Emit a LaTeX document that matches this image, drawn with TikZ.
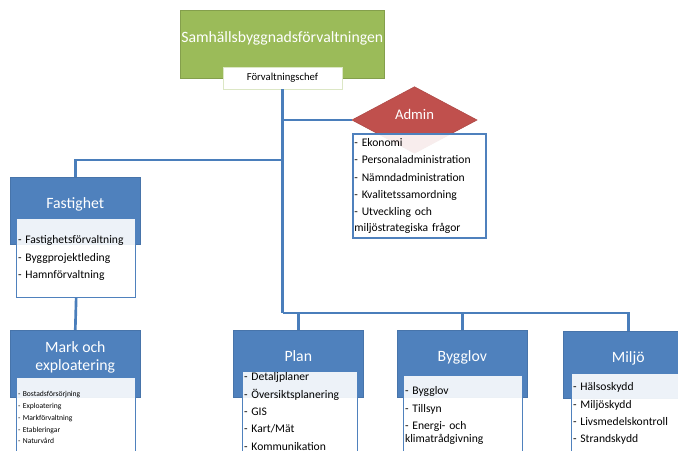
\documentclass[tikz,border=0pt]{standalone}
\usepackage{fontspec}
\setmainfont{Carlito}
\usepackage{xcolor}
\usetikzlibrary{calc, positioning, shapes.geometric}
\definecolor{orgblue}{HTML}{4F81BD}
\definecolor{orggreen}{HTML}{9BBB59}
\definecolor{orgred}{HTML}{C0504D}
\definecolor{lineblue}{HTML}{4A7EBB}

\begin{document}
\begin{tikzpicture}[x = 0.75pt, y = -0.75pt,
  unit/.style = {draw = orgblue!90!black, line width = 0.4pt, fill = orgblue, anchor = north west, minimum width = 97.5pt, minimum height = 50pt, inner sep = 0pt, text = white, align = center, text depth = 12pt, font = \fontsize{11.8}{13.5}\selectfont},
  lst/.style = {draw = orgblue, line width = 1pt, fill = white, fill opacity = 0.9, text opacity = 1, anchor = north west, text width = 87.25pt, align = left, inner xsep = 1pt, font = \fontsize{8.7}{13}\selectfont},
  conn/.style = {draw = lineblue, line width = 2pt}]
\fill[white] (0,0) rectangle (678,450);
\useasboundingbox (0,0) rectangle (678,450);
\clip (0,0) rectangle (678,450);

\node[fill = orggreen, draw = orggreen!85!black, anchor = north west, minimum width = 153pt, minimum height = 51pt, inner sep = 0pt, text = white, text depth = 11pt, font = \fontsize{11.8}{14}\selectfont] (forv) at (180,10) {Samhällsbyggnadsförvaltningen};
\node[fill = white, draw = orggreen!35, minimum width = 89pt, minimum height = 16.5pt, inner sep = 0pt, font = \fontsize{8}{9}\selectfont] (chef) at (282.5,78) {Förvaltningschef};

\node[diamond, aspect = 1.9, fill = orgred, draw = orgred!90!black, minimum width = 94pt, minimum height = 50pt, inner sep = 0pt, text = white, text depth = 9pt, font = \fontsize{11}{13}\selectfont] (admin) at (414.5,120) {Admin};
\node[lst, line width = 1.5pt, text width = 97.75pt, minimum height = 76.5pt] (adminlist) at (352,133) {- Ekonomi\\- Personaladministration\\- Nämndadministration\\- Kvalitetssamordning\\- Utveckling och\\[-1pt]miljöstrategiska frågor};

\node[unit] (fast) at (10,177) {Fastighet};
\node[lst, minimum height = 59pt] (fastlist) at (16,218) {- Fastighetsförvaltning\\- Byggprojektleding\\- Hamnförvaltning};

\node[unit] (mark) at (10,330) {Mark och\\exploatering};
\node[lst, minimum height = 60pt, font = \fontsize{5.7}{8.8}\selectfont] (marklist) at (16,377) {- Bostadsförsörjning\\- Exploatering\\- Markförvaltning\\- Etableringar\\- Naturvård};

\node[unit] (plan) at (233,330) {Plan};
\node[lst, text width = 84.25pt, inner ysep = 0pt, minimum height = 60pt] (planlist) at (242,371) {- Detaljplaner\\- Översiktsplanering\\- GIS\\- Kart/Mät\\- Kommunikation};

\node[unit] (bygglov) at (397,330) {Bygglov};
\node[lst, minimum height = 60pt] (bygglist) at (403,375) {- Bygglov\\- Tillsyn\\- Energi- och\\[-3pt]klimatrådgivning};

\node[unit] (miljo) at (563,331) {Miljö};
\node[lst, text width = 84.25pt, minimum height = 60pt] (miljolist) at (571,373) {- Hälsoskydd\\- Miljöskydd\\- Livsmedelskontroll\\- Strandskydd};

\coordinate (split) at (282.5,160);
\coordinate (bar) at (282.5,313);
\draw[conn] (chef.south) -- (bar);
\draw[conn] (chef.south) |- (admin.west);
\draw[conn] (split) -| (fast.north);
\draw[conn] (fastlist.south) -- (mark.north);
\foreach \u in {plan, bygglov, miljo}{
\draw[conn] (bar) -| (\u.north);
}
\end{tikzpicture}
\end{document}
